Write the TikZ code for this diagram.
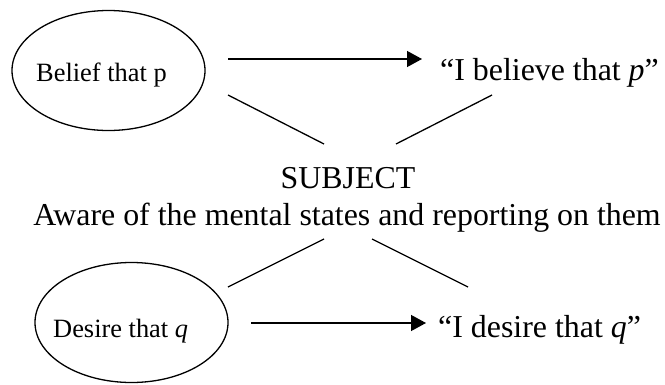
\documentclass[tikz,border=0pt]{standalone}
\usepackage{fontspec}
\setmainfont{Liberation Serif}
\usetikzlibrary{shapes.geometric,arrows.meta}
\begin{document}
\begin{tikzpicture}[x=1bp,y=-1bp,
  state/.style={draw,ellipse,line width=1.3bp,minimum width=193bp,minimum height=120bp,inner sep=0pt},
  small/.style={font=\fontsize{26.5}{30}\selectfont,inner sep=0pt},
  big/.style={font=\fontsize{32}{38}\selectfont,inner sep=0pt},
  link/.style={line width=1.3bp},
  arr/.style={line width=1.3bp,-{Triangle[length=15bp,width=16bp]}}]
\useasboundingbox (0,0) rectangle (665,384);
% ellipses
\node[state] (belief) at (108.5,70.5) {};
\node[state] (desire) at (131.5,322.5) {};
% texts
\node[small,anchor=base west] (belieftxt) at (36,81) {Belief that p};
\node[small,anchor=base west] (desiretxt) at (53,337) {Desire that \textit{q}};
\node[big,anchor=base west] (bel) at (440,80) {“I believe that \textit{p}”};
\node[big,anchor=base west] (des) at (438,337) {“I desire that \textit{q}”};
\node[big,anchor=base] (subj) at (348,188) {SUBJECT};
\node[big,anchor=base] (aware) at (347,225) {Aware of the mental states and reporting on them};
% arrow endpoints
\coordinate (a1s) at (228,59);
\coordinate (a1e) at (422,59);
\coordinate (a2s) at (251,323);
\coordinate (a2e) at (426,323);
% line endpoints
\coordinate (tl1) at (228,95);  \coordinate (tl2) at (324,144);
\coordinate (tr1) at (492,95);  \coordinate (tr2) at (396,144);
\coordinate (bl1) at (228,287); \coordinate (bl2) at (324,239);
\coordinate (br1) at (468,287); \coordinate (br2) at (372,239);
\draw[arr] (a1s) -- (a1e);
\draw[arr] (a2s) -- (a2e);
\draw[link] (tl1) -- (tl2);
\draw[link] (tr1) -- (tr2);
\draw[link] (bl1) -- (bl2);
\draw[link] (br1) -- (br2);
\end{tikzpicture}
\end{document}
